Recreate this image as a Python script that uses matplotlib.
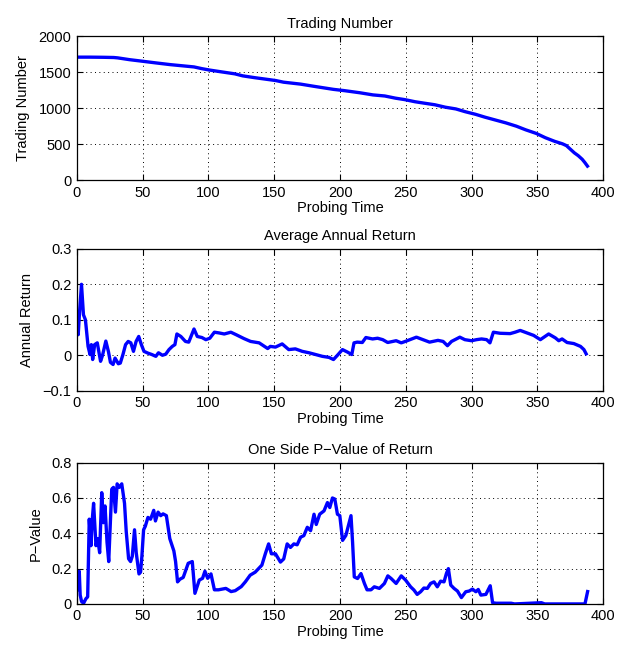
import matplotlib
matplotlib.use('Agg')
import matplotlib.pyplot as plt

plt.rcParams['font.family'] = ['Liberation Sans', 'DejaVu Sans']

# 交易数量 (Trading Number)
trade_x = [0, 10, 20, 28, 31, 40, 49, 60, 71, 80, 89, 95, 101, 110, 120, 126, 135,
           145, 151, 157, 170, 180, 188, 195, 203, 215, 225, 234, 242, 249, 257,
           264, 272, 280, 288, 295, 303, 310, 318, 326, 334, 341, 349, 356, 363,
           369, 372, 375, 378, 381, 384, 386, 388]
trade_y = [1710, 1710, 1708, 1705, 1700, 1675, 1655, 1630, 1606, 1590, 1574, 1550,
           1530, 1505, 1478, 1450, 1425, 1400, 1385, 1362, 1335, 1305, 1282, 1262,
           1245, 1215, 1185, 1170, 1140, 1120, 1090, 1070, 1048, 1014, 990, 952,
           915, 876, 836, 796, 750, 700, 650, 590, 540, 505, 480, 430, 380, 340,
           290, 245, 195]

# 平均年化收益 (Average Annual Return)
ret_x = [0, 1, 2, 3.5, 5, 6.5, 8.5, 10, 11, 12, 13.5, 15.5, 18, 19.5, 22, 24,
         25.5, 27.5, 29, 31.5, 33, 35, 37, 39, 41, 43, 45, 47, 49, 51, 54, 57, 60,
         62, 65, 67.5, 70, 72.5, 74.5, 76, 79, 82.5, 85, 89, 91.5, 95, 98, 101,
         104.5, 108, 112, 117, 121, 127, 132, 138.5, 145, 147, 150.9, 156, 161,
         166, 171.3, 176.4, 181.5, 186.5, 191.6, 195, 198, 201.8, 205.6, 208.9,
         210.6, 213, 216.9, 219.6, 224.7, 228.5, 232.4, 236.2, 242.6, 246.5, 250.3,
         258, 263, 268, 274.4, 278.3, 281.6, 284.7, 291, 294.8, 299.9, 303.7,
         307.5, 311.4, 313.9, 316.5, 321.6, 329.2, 333, 336.9, 342, 347.1, 352.2,
         358.5, 363.6, 366.2, 368.7, 372.5, 377.6, 382.7, 385.3, 387]
ret_y = [0.11, 0.058, 0.12, 0.2, 0.114, 0.1, 0.025, 0.002, 0.03, -0.012, 0.03,
         0.035, -0.017, 0.0, 0.04, 0.01, -0.02, -0.026, -0.008, -0.024, -0.022,
         0.002, 0.03, 0.039, 0.035, 0.011, 0.039, 0.053, 0.03, 0.011, 0.006, 0.002,
         -0.003, 0.007, 0.0, 0.003, 0.016, 0.025, 0.03, 0.06, 0.053, 0.039, 0.037,
         0.074, 0.053, 0.05, 0.044, 0.048, 0.065, 0.063, 0.06, 0.065, 0.058, 0.047,
         0.039, 0.035, 0.019, 0.025, 0.023, 0.032, 0.016, 0.018, 0.011, 0.007,
         0.002, -0.003, -0.006, -0.012, 0.0, 0.016, 0.009, 0.002, 0.035, 0.037,
         0.036, 0.05, 0.046, 0.048, 0.044, 0.036, 0.041, 0.035, 0.04, 0.051, 0.044,
         0.037, 0.042, 0.039, 0.027, 0.039, 0.051, 0.044, 0.041, 0.044, 0.046,
         0.044, 0.035, 0.065, 0.062, 0.061, 0.065, 0.07, 0.063, 0.056, 0.044, 0.06,
         0.049, 0.041, 0.046, 0.036, 0.033, 0.025, 0.016, 0.004]

# 单侧P值 (One Side P-Value of Return)
pval_x = [0, 1.8, 2.5, 3.6, 5.1, 6.9, 8.2, 9.4, 10.7, 11.5, 12.7, 14.5, 15.8,
          17.3, 18.9, 20.1, 21.4, 22.9, 24.2, 26.5, 27.8, 29.3, 30.6, 32.2, 34.1,
          36.2, 37.5, 39.3, 40.8, 42.1, 43.8, 45.1, 47.2, 48.4, 49.4, 50.7, 52,
          54, 56, 58.4, 59.7, 61.7, 63.7, 65.5, 68, 70.6, 71.9, 73.7, 75, 76.5,
          78.3, 80.8, 84.6, 87.7, 89.7, 93, 95.5, 97.3, 99.4, 101.9, 104.5, 107.6,
          113.2, 117.2, 120.3, 124.9, 128, 131.7, 135.5, 140.6, 143.2, 145.7,
          147.8, 150.9, 154.7, 157.2, 159.8, 162.3, 164.9, 167.4, 170, 172.5,
          175.1, 177.6, 180.2, 181.9, 184.5, 187.8, 190.4, 192.2, 194.2, 196, 198,
          199.8, 201.9, 204.4, 208.3, 209.5, 210.8, 213.3, 215.9, 218.5, 220.5,
          223.5, 226, 229.9, 233.7, 236.3, 238.8, 242.6, 246.5, 249.8, 253.6,
          256.1, 258.6, 261.2, 263.7, 266.3, 268.8, 271.4, 273.9, 276.4, 279,
          280.8, 282.3, 284.1, 286.6, 289.2, 292.2, 295.5, 298.1, 300.6, 303.2,
          305, 307, 310.8, 314.1, 315.9, 318.5, 330, 332.6, 353, 355.5, 386.1, 388.1]
pval_y = [0.08, 0.185, 0.05, 0.013, 0.004, 0.03, 0.04, 0.48, 0.33, 0.46, 0.57,
          0.33, 0.37, 0.29, 0.63, 0.46, 0.555, 0.35, 0.24, 0.65, 0.66, 0.52, 0.68,
          0.66, 0.68, 0.57, 0.41, 0.256, 0.24, 0.27, 0.42, 0.29, 0.17, 0.18, 0.27,
          0.42, 0.44, 0.49, 0.48, 0.53, 0.47, 0.52, 0.5, 0.51, 0.5, 0.37, 0.34,
          0.3, 0.24, 0.125, 0.14, 0.15, 0.23, 0.24, 0.06, 0.135, 0.145, 0.185,
          0.145, 0.17, 0.08, 0.08, 0.088, 0.07, 0.075, 0.098, 0.125, 0.163, 0.18,
          0.22, 0.284, 0.34, 0.284, 0.284, 0.237, 0.255, 0.34, 0.32, 0.34, 0.335,
          0.378, 0.387, 0.434, 0.415, 0.508, 0.45, 0.508, 0.527, 0.574, 0.546, 0.6,
          0.594, 0.508, 0.5, 0.36, 0.388, 0.5, 0.35, 0.153, 0.144, 0.172, 0.116,
          0.08, 0.08, 0.097, 0.088, 0.116, 0.159, 0.144, 0.116, 0.159, 0.135,
          0.097, 0.079, 0.054, 0.069, 0.09, 0.088, 0.116, 0.125, 0.097, 0.129,
          0.125, 0.172, 0.2, 0.107, 0.088, 0.073, 0.036, 0.069, 0.073, 0.084,
          0.069, 0.082, 0.05, 0.054, 0.103, 0.007, 0.004, 0.004, 0.0, 0.007, 0.0,
          0.0, 0.07]

xticks = [0, 50, 100, 150, 200, 250, 300, 350, 400]

fig = plt.figure(figsize=(6.2, 6.48), dpi=100)
fig.patch.set_facecolor('white')

panels = [
    ([0.124, 0.722, 0.849, 0.222], trade_x, trade_y, 'Trading Number', 'Trading Number',
     (0, 2000), [0, 500, 1000, 1500, 2000], ['0', '500', '1000', '1500', '2000']),
    ([0.124, 0.397, 0.849, 0.219], ret_x, ret_y, 'Average Annual Return', 'Annual Return',
     (-0.1, 0.3), [-0.1, 0, 0.1, 0.2, 0.3], ['\u22120.1', '0', '0.1', '0.2', '0.3']),
    ([0.124, 0.068, 0.849, 0.218], pval_x, pval_y, 'One Side P\u2212Value of Return', 'P\u2212Value',
     (0, 0.8), [0, 0.2, 0.4, 0.6, 0.8], ['0', '0.2', '0.4', '0.6', '0.8']),
]

for rect, xs, ys, title, ylabel, ylim, yticks, ylabels in panels:
    ax = fig.add_axes(rect)
    ax.plot(xs, ys, color='#0000ff', linewidth=2.4, solid_joinstyle='round')
    ax.set_xlim(0, 400)
    ax.set_ylim(*ylim)
    ax.set_xticks(xticks)
    ax.set_xticklabels([str(t) for t in xticks])
    ax.set_yticks(yticks)
    ax.set_yticklabels(ylabels)
    ax.tick_params(direction='in', top=True, right=True, length=4, width=0.8,
                   labelsize=10.5, pad=4, colors='black')
    ax.grid(True, linestyle=(0, (1, 3.5)), color='black', linewidth=0.7)
    for s in ax.spines.values():
        s.set_linewidth(0.9)
        s.set_color('black')
    ax.set_title(title, fontsize=10.5, pad=6)
    ax.set_xlabel('Probing Time', fontsize=10.5, labelpad=1)
    ax.set_ylabel(ylabel, fontsize=10.5, labelpad=6)

fig.savefig('out.png', dpi=100, facecolor='white')
